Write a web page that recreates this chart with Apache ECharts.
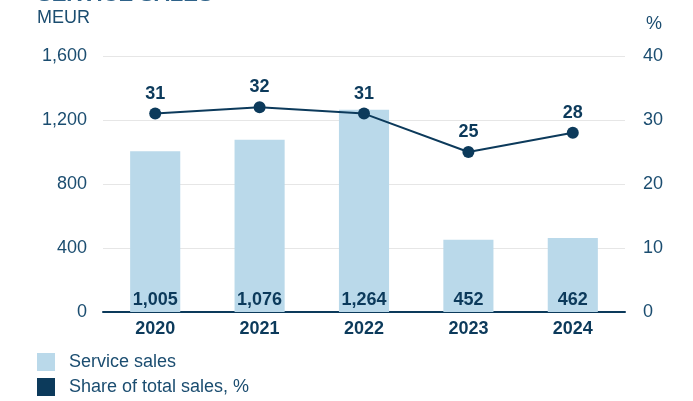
<!DOCTYPE html>
<html><head><meta charset="utf-8">
<script src="https://cdn.jsdelivr.net/npm/echarts@6/dist/echarts.min.js"></script>
<style>html,body{margin:0;padding:0;background:#fff}#c{width:693px;height:401px}</style>
</head><body><div id="c"></div>
<script>
const categories = ['2020','2021','2022','2023','2024'];
const serviceSales = [1005,1076,1264,452,462];
const shareOfTotal = [31,32,31,25,28];
const leftTicks = {min:0,max:1600,interval:400};
const rightTicks = {min:0,max:40,interval:10};

const TXT = '#1b4d70', DARK = '#0c3a5b', LIGHT = '#bad9ea';
const FONT = '"Liberation Sans", Arial, Helvetica, sans-serif';
const chart = echarts.init(document.getElementById('c'), null, {renderer:'canvas'});
chart.setOption({
  animation:false,
  textStyle:{fontFamily:FONT},
  graphic:[
    {type:'text',x:37,y:-16,z:100,style:{text:'SERVICE SALES',font:'bold 22px '+FONT,fill:'#2e6289',textVerticalAlign:'top'}},
    {type:'text',x:37,y:9,style:{text:'MEUR',font:'18px '+FONT,fill:TXT,textVerticalAlign:'top'}},
    {type:'text',x:646,y:15,style:{text:'%',font:'18px '+FONT,fill:TXT,textVerticalAlign:'top'}}
  ],
  grid:{left:103,right:68,top:56,bottom:89,containLabel:false},
  legend:{
    orient:'vertical',left:37,top:353,height:60,itemWidth:18,itemHeight:18,itemGap:7,padding:0,
    textStyle:{color:TXT,fontSize:18,lineHeight:18,fontFamily:FONT,padding:[0,0,0,9]},
    data:[{name:'Service sales',icon:'rect',itemStyle:{color:LIGHT}},
          {name:'Share of total sales, %',icon:'rect',itemStyle:{color:DARK}}]
  },
  xAxis:{type:'category',data:categories,
    axisLine:{lineStyle:{color:DARK,width:2}},axisTick:{show:false},
    axisLabel:{color:DARK,fontWeight:'bold',fontSize:18,margin:8,fontFamily:FONT}},
  yAxis:[
    {type:'value',min:leftTicks.min,max:leftTicks.max,interval:leftTicks.interval,
     axisLine:{show:false},axisTick:{show:false},
     axisLabel:{color:TXT,fontSize:18,margin:16,fontFamily:FONT,
       formatter:v=>v.toLocaleString('en-US')},
     splitLine:{lineStyle:{color:'#e6e6e6',width:1}}},
    {type:'value',min:rightTicks.min,max:rightTicks.max,interval:rightTicks.interval,
     axisLine:{show:false},axisTick:{show:false},
     axisLabel:{color:TXT,fontSize:18,margin:18,fontFamily:FONT},
     splitLine:{show:false}}
  ],
  series:[
    {name:'Service sales',type:'bar',data:serviceSales,barWidth:'48%',
     itemStyle:{color:LIGHT},
     label:{show:true,position:'insideBottom',distance:3,color:DARK,fontWeight:'bold',fontSize:18,fontFamily:FONT,
       formatter:p=>p.value.toLocaleString('en-US')}},
    {name:'Share of total sales, %',type:'line',yAxisIndex:1,data:shareOfTotal,
     symbol:'circle',symbolSize:12,lineStyle:{color:DARK,width:2},itemStyle:{color:DARK},
     label:{show:true,position:'top',distance:5,color:DARK,fontWeight:'bold',fontSize:18,fontFamily:FONT}}
  ]
});
</script></body></html>
